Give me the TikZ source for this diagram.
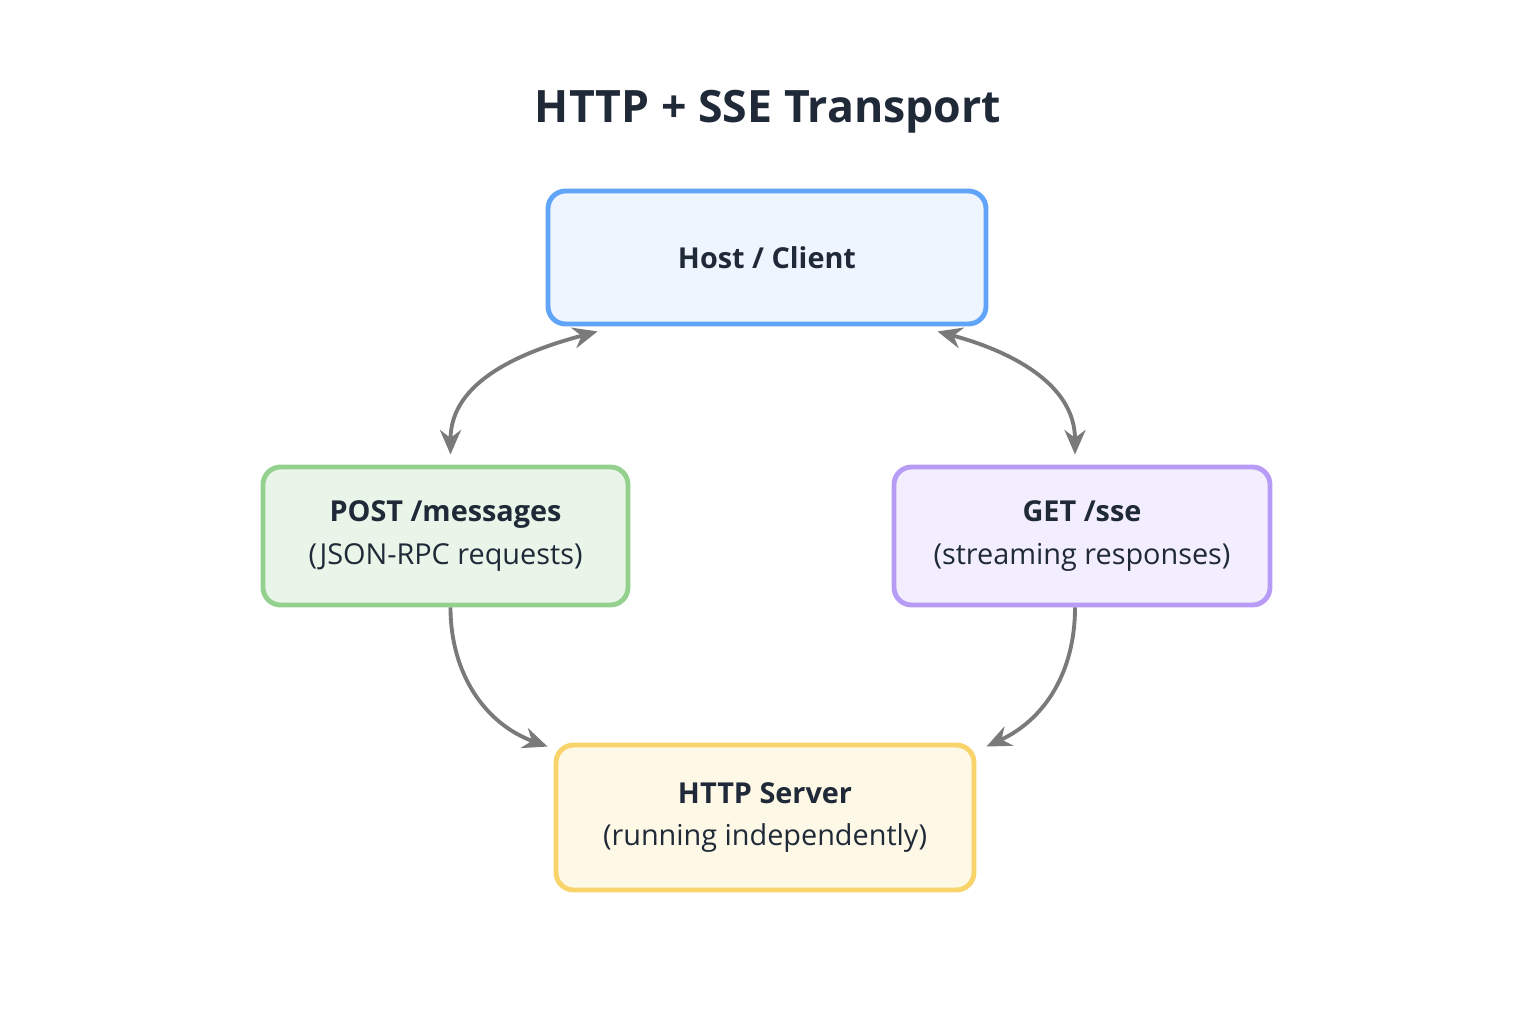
\documentclass[tikz,border=0pt]{standalone}
\usepackage{fontspec}
\setmainfont{Open Sans}
\usepackage{xcolor}
\usetikzlibrary{arrows.meta}
\definecolor{ink}{HTML}{1F2937}
\definecolor{hostline}{HTML}{60A5FA}\definecolor{hostfill}{HTML}{EEF5FE}
\definecolor{postline}{HTML}{94D18F}\definecolor{postfill}{HTML}{EAF5E9}
\definecolor{getline}{HTML}{B79CF5}\definecolor{getfill}{HTML}{F3EEFD}
\definecolor{srvline}{HTML}{F8D46A}\definecolor{srvfill}{HTML}{FEF8E6}
\definecolor{arrowgray}{HTML}{7A7A7A}
\tikzset{
  box/.style={draw, line width=1.4pt, rounded corners=5pt, align=center,
    text=ink, font=\fontsize{8.2pt}{12pt}\selectfont, inner sep=0pt},
  link/.style={draw=arrowgray, line width=1.1pt, -{Stealth[length=7pt,width=6pt]}},
}
\begin{document}
\begin{tikzpicture}
  \useasboundingbox (0,0) rectangle (15.36,10.24);
  \node[text=ink, font=\fontsize{12.7pt}{15pt}\selectfont\bfseries] (title) at (7.68,9.12) {HTTP + SSE Transport};

  \node[box, draw=hostline, fill=hostfill, minimum width=4.38cm, minimum height=1.33cm] (host) at (7.67,7.665) {\textbf{Host / Client}};
  \node[box, draw=postline, fill=postfill, minimum width=3.65cm, minimum height=1.38cm] (post) at (4.455,4.88) {\textbf{POST /messages}\\(JSON-RPC requests)};
  \node[box, draw=getline, fill=getfill, minimum width=3.76cm, minimum height=1.38cm] (get) at (10.82,4.88) {\textbf{GET /sse}\\(streaming responses)};
  \node[box, draw=srvline, fill=srvfill, minimum width=4.18cm, minimum height=1.45cm] (server) at (7.65,2.065) {\textbf{HTTP Server}\\(running independently)};

  % host <-> request / stream
  \draw[link, {Stealth[length=7pt,width=6pt]}-{Stealth[length=7pt,width=6pt]}] ([xshift=0.52cm,yshift=-0.05cm]host.south west) to[out=195,in=90] ([xshift=0.05cm,yshift=0.1cm]post.north);
  \draw[link, {Stealth[length=7pt,width=6pt]}-{Stealth[length=7pt,width=6pt]}] ([xshift=-0.51cm,yshift=-0.05cm]host.south east) to[out=-15,in=90] ([xshift=-0.07cm,yshift=0.1cm]get.north);

  % request / stream -> server
  \draw[link] ([xshift=0.05cm]post.south) to[out=-90,in=160] ([xshift=-0.06cm,yshift=-0.04cm]server.north west);
  \draw[link] ([xshift=-0.07cm]get.south) to[out=-90,in=25] ([xshift=0.1cm,yshift=-0.04cm]server.north east);
\end{tikzpicture}
\end{document}
